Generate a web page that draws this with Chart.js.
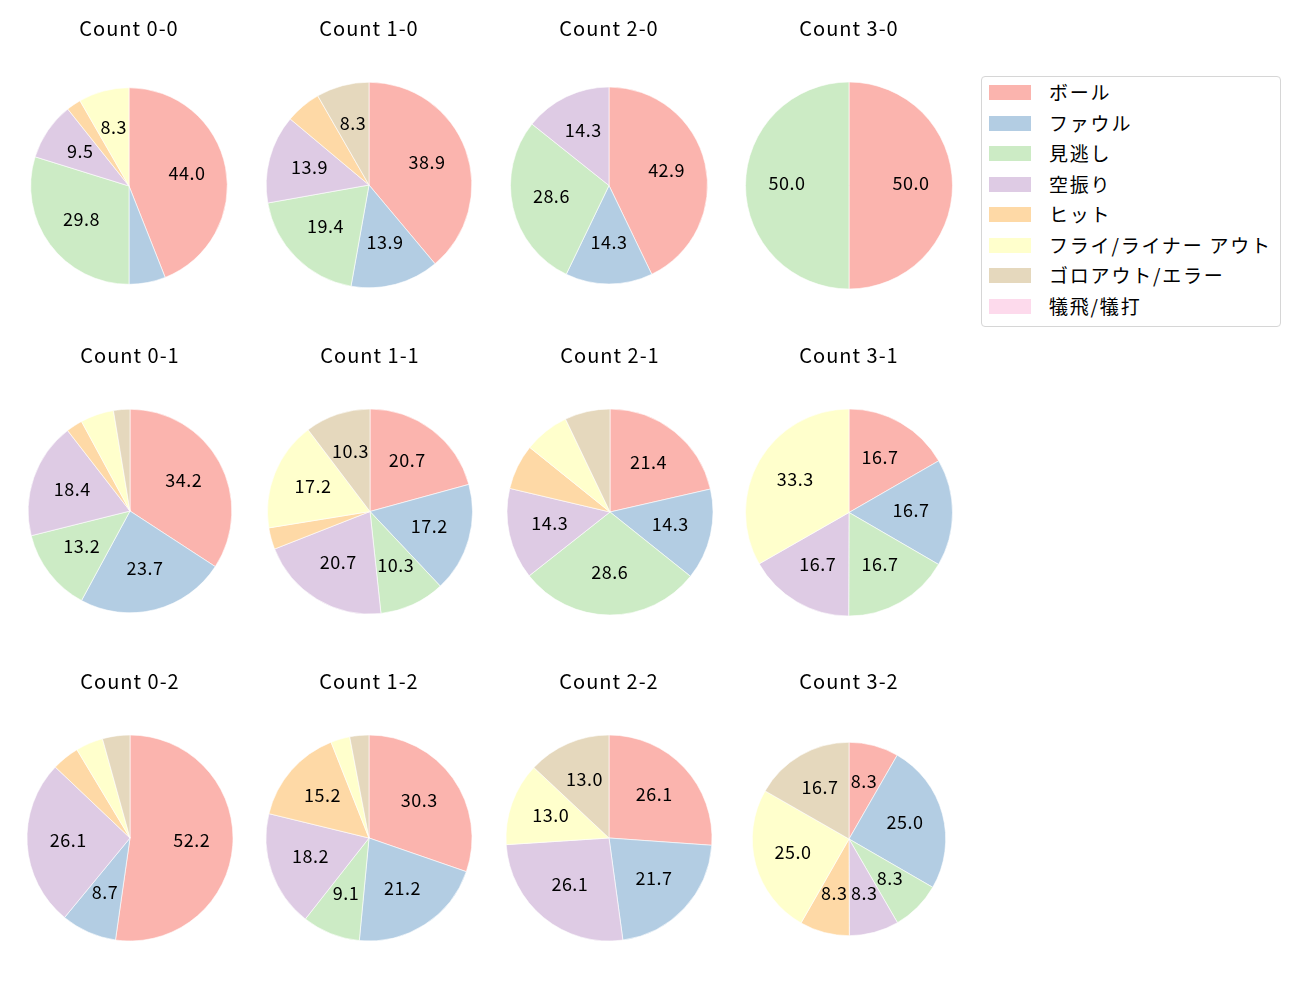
<!DOCTYPE html>
<html>
<head>
<meta charset="utf-8">
<title>Count pies</title>
<script src="https://cdn.jsdelivr.net/npm/chart.js@4.4.1/dist/chart.umd.min.js"></script>
<style>
  body { margin: 0; background: #fff; }
  #fig { position: relative; width: 1300px; height: 1000px; overflow: hidden; }
  #fig canvas { position: absolute; }
  #legend {
    position: absolute; left: 981px; top: 76px; width: 298px; height: 249px;
    border: 1px solid #d6d6d6; border-radius: 4px; background: #fff;
    font-family: "Noto Sans CJK JP", sans-serif; font-size: 19px; color: #000;
    letter-spacing: 1.8px;
  }
  .item { position: absolute; left: 0; height: 30px; }
  .patch { position: absolute; left: 7px; width: 42px; height: 15px; }
  .label { position: absolute; left: 67px; white-space: nowrap; line-height: 20px; }
</style>
</head>
<body>
<div id="fig">
  <div id="legend"></div>
</div>
<script>
// categories and colours (Pastel1)
const categories = ['ボール', 'ファウル', '見逃し', '空振り', 'ヒット', 'フライ/ライナー アウト', 'ゴロアウト/エラー', '犠飛/犠打'];
const colors = ['#fbb4ae', '#b3cde3', '#ccebc5', '#decbe4', '#fed9a6', '#ffffcc', '#e5d8bd', '#fddaec'];

// percentages per ball-strike count, in category order
const titles = ['Count 0-0', 'Count 1-0', 'Count 2-0', 'Count 3-0',
                'Count 0-1', 'Count 1-1', 'Count 2-1', 'Count 3-1',
                'Count 0-2', 'Count 1-2', 'Count 2-2', 'Count 3-2'];
const pct00 = [44.0, 6.0, 29.8, 9.5, 2.4, 8.3, 0, 0];
const pct10 = [38.9, 13.9, 19.4, 13.9, 5.6, 0, 8.3, 0];
const pct20 = [42.9, 14.3, 28.6, 14.3, 0, 0, 0, 0];
const pct30 = [50.0, 0, 50.0, 0, 0, 0, 0, 0];
const pct01 = [34.2, 23.7, 13.2, 18.4, 2.6, 5.3, 2.6, 0];
const pct11 = [20.7, 17.2, 10.3, 20.7, 3.4, 17.2, 10.3, 0];
const pct21 = [21.4, 14.3, 28.6, 14.3, 7.1, 7.1, 7.1, 0];
const pct31 = [16.7, 16.7, 16.7, 16.7, 0, 33.3, 0, 0];
const pct02 = [52.2, 8.7, 0, 26.1, 4.3, 4.3, 4.3, 0];
const pct12 = [30.3, 21.2, 9.1, 18.2, 15.2, 3.0, 3.0, 0];
const pct22 = [26.1, 21.7, 0, 26.1, 0, 13.0, 13.0, 0];
const pct32 = [8.3, 25.0, 8.3, 8.3, 8.3, 25.0, 16.7, 0];
const series = [pct00, pct10, pct20, pct30, pct01, pct11, pct21, pct31, pct02, pct12, pct22, pct32];

// layout: pie centres / radii in page pixels, title rows
const pieX = [129, 369, 608.5, 848.5, 130, 369.5, 609.5, 848.5, 129.5, 369, 609, 848.5];
const pieY = [186, 185, 185.5, 185.5, 511, 511.5, 512, 512.5, 838, 838, 838, 839];
const pieR = [98.3, 102.8, 98.5, 103.5, 101.8, 102.5, 103, 103.5, 103, 103, 103, 96.7];
const titleY = [28, 355, 681];

const FONT = '"Noto Sans CJK JP", sans-serif';
const TITLE_SIZE = 20;
const LINE_H = TITLE_SIZE * 1.2;

// wider tracking for the title, reset before the slices
const titleSpacing = {
  id: 'titleSpacing',
  beforeDraw(chart) { chart.ctx.letterSpacing = '1px'; },
  beforeDatasetsDraw(chart) { chart.ctx.letterSpacing = '0px'; }
};

// percentage text inside slices (only slices >= 8%)
const pctLabels = {
  id: 'pctLabels',
  afterDatasetsDraw(chart) {
    const ctx = chart.ctx;
    const vals = chart.data.datasets[0].data;
    ctx.save();
    ctx.font = '18px ' + FONT;
    ctx.letterSpacing = '0.5px';
    ctx.fillStyle = '#000';
    ctx.textAlign = 'center';
    ctx.textBaseline = 'middle';
    chart.getDatasetMeta(0).data.forEach((arc, i) => {
      if (vals[i] < 8) return;
      const p = arc.getProps(['x', 'y', 'startAngle', 'endAngle', 'outerRadius'], true);
      const a = (p.startAngle + p.endAngle) / 2;
      const r = p.outerRadius * 0.6;
      ctx.fillText(vals[i].toFixed(1), p.x + Math.cos(a) * r, p.y + Math.sin(a) * r - 2);
    });
    ctx.restore();
  }
};

const fig = document.getElementById('fig');

series.forEach((vals, i) => {
  const row = Math.floor(i / 4);
  const cx = pieX[i], cy = pieY[i];
  const top = Math.round(titleY[row] - LINE_H / 2);
  const height = Math.round(2 * (cy - top) - LINE_H - 10);
  const padBottom = 2 * (cy - top) - LINE_H - height;

  const canvas = document.createElement('canvas');
  canvas.width = 240;
  canvas.height = height;
  canvas.style.left = Math.round(cx - 120) + 'px';
  canvas.style.top = top + 'px';
  fig.appendChild(canvas);

  new Chart(canvas, {
    type: 'pie',
    data: {
      labels: categories,
      datasets: [{
        data: vals,
        backgroundColor: colors,
        borderColor: '#ffffff',
        borderWidth: 0.6,
        radius: pieR[i],
      }],
    },
    options: {
      responsive: false,
      maintainAspectRatio: false,
      animation: false,
      events: [],
      layout: { padding: 0 },
      plugins: {
        legend: { display: false },
        tooltip: { enabled: false },
        title: {
          display: true,
          text: titles[i],
          color: '#000',
          font: { family: FONT, size: TITLE_SIZE, weight: 'normal', lineHeight: 1.2 },
          padding: { top: 0, bottom: padBottom },
        },
      },
    },
    plugins: [titleSpacing, pctLabels],
  });
});

// figure legend
const legend = document.getElementById('legend');
categories.forEach((name, i) => {
  const item = document.createElement('div');
  item.className = 'item';
  item.style.top = (8 + i * 30.5) + 'px';
  item.innerHTML = '<div class="patch" style="background:' + colors[i] + ';top:0px"></div>' +
                   '<div class="label" style="top:-3px">' + name + '</div>';
  legend.appendChild(item);
});
</script>
</body>
</html>
